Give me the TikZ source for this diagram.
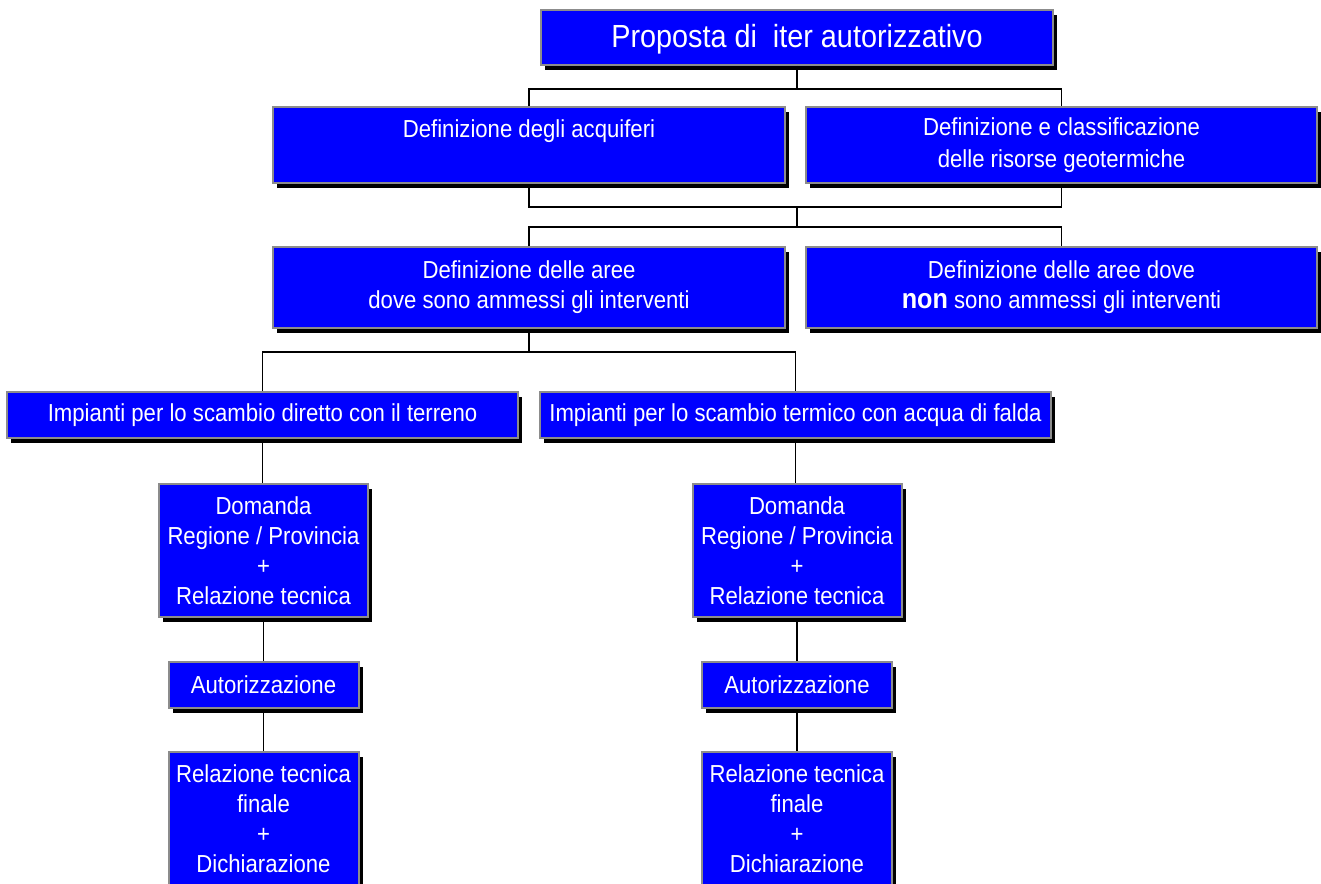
\documentclass[tikz,border=0pt]{standalone}
\usepackage{fontspec}
\newfontfamily\boxfont[FakeStretch=0.9]{Liberation Sans}
\usetikzlibrary{shadows}
\definecolor{edge}{RGB}{140,140,140}

\begin{document}
\begin{tikzpicture}[x=.5pt,y=-.5pt,
  box/.style={draw=edge, line width=1pt, fill=blue, text=white, align=center,
    inner sep=0pt, font=\boxfont\fontsize{12.3}{15}\selectfont,
    drop shadow={shadow xshift=2pt, shadow yshift=-2.5pt, opacity=1, fill=black}},
  link/.style={draw=black, line width=.8pt}]

\useasboundingbox (0,0) rectangle (1321,883);
\clip (0,0) rectangle (1321,883);

% le titre
\node [box, minimum width=256pt, minimum height=27.5pt, text depth=1.5pt,
  font=\boxfont\fontsize{16}{19}\selectfont] (titolo) at (797,37.5)
  {Proposta di\ \ iter autorizzativo};

% acquiferi et risorse
\node [box, minimum width=256pt, minimum height=38pt,
  font=\boxfont\fontsize{12.3}{16}\selectfont] (acq) at (529,145)
  {Definizione degli acquiferi\\\mbox{}};
\node [box, minimum width=255.5pt, minimum height=38pt,
  font=\boxfont\fontsize{12.3}{16}\selectfont] (ris) at (1061.5,145)
  {Definizione e classificazione\\delle risorse geotermiche};

% aree
\node [box, minimum width=256pt, minimum height=40.5pt] (amm) at (529,287.5)
  {Definizione delle aree\\dove sono ammessi gli interventi};
\node [box, minimum width=255.5pt, minimum height=40.5pt] (nonamm) at (1061.5,287.5)
  {Definizione delle aree dove\\{\bfseries\fontsize{14}{15}\selectfont non} sono ammessi gli interventi};

% impianti
\node [box, minimum width=255.5pt, minimum height=23pt] (dir) at (262.5,415)
  {Impianti per lo scambio diretto con il terreno};
\node [box, minimum width=255.5pt, minimum height=23pt] (fal) at (795.5,415)
  {Impianti per lo scambio termico con acqua di falda};

% les deux colonnes
\foreach \Nom/\X in {L/263.5, R/797}{
  \node [box, minimum width=104.5pt, minimum height=66.5pt] (dom\Nom) at (\X,550.5)
    {Domanda\\Regione / Provincia\\+\\Relazione tecnica};
  \node [box, minimum width=95pt, minimum height=23pt] (aut\Nom) at (\X,685)
    {Autorizzazione};
  \node [box, minimum width=95pt, minimum height=67pt] (fin\Nom) at (\X,819)
    {Relazione tecnica\\finale\\+\\Dichiarazione};
}

\coordinate (j1) at (797,89);
\coordinate (j2) at (797,207);
\coordinate (j3) at (797,227);
\coordinate (j4) at (529,352);

\draw [link] (titolo.south) -- (j1);
\draw [link] (acq.north) |- (j1) -| (ris.north);
\draw [link] (acq.south) |- (j2) -| (ris.south);
\draw [link] (j2) -- (j3);
\draw [link] (amm.north) |- (j3) -| (nonamm.north);
\draw [link] (amm.south) -- (j4);
\draw [link] (dir.north) |- (j4) -| (fal.north);

\draw [link] (dir.south) -- (dir.south |- domL.north);
\draw [link] (fal.south) -- (fal.south |- domR.north);
\foreach \Nom in {L,R}{
  \draw [link] (dom\Nom.south) -- (aut\Nom.north);
  \draw [link] (aut\Nom.south) -- (fin\Nom.north);
}

\end{tikzpicture}
\end{document}
